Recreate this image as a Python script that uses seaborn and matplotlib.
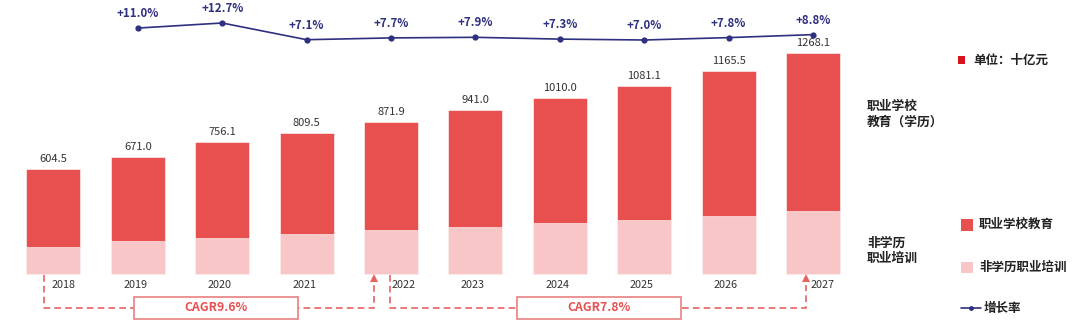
import numpy as np
import pandas as pd
import matplotlib
matplotlib.use("Agg")
import matplotlib.pyplot as plt
import seaborn as sns
from matplotlib.patches import Rectangle
from matplotlib.lines import Line2D

# ---------------- data ----------------
years = ['2018', '2019', '2020', '2021', '2022', '2023', '2024', '2025', '2026', '2027']
totals = [604.5, 671.0, 756.1, 809.5, 871.9, 941.0, 1010.0, 1081.1, 1165.5, 1268.1]
non_degree = [155, 186, 204, 231, 252, 268, 291, 311, 334, 363]
growth_years = years[1:]
growth = [11.0, 12.7, 7.1, 7.7, 7.9, 7.3, 7.0, 7.8, 8.8]
cagr_labels = ['CAGR9.6%', 'CAGR7.8%']
cagr_spans = [('2018', '2022'), ('2022', '2027')]
series_names = ['职业学校教育', '非学历职业培训', '增长率']
unit_label = '单位：十亿元'
side_labels = ['职业学校\n教育（学历）', '非学历\n职业培训']

# ---------------- style ----------------
sns.set_theme(style='white')
plt.rcParams['font.family'] = ['Noto Sans CJK SC', 'DejaVu Sans']

RED = '#E85050'
PINK = '#F8C6C6'
NAVY = '#2E3080'
DASH = '#E86262'
BOXE = '#E88080'
TXT = '#333333'

W, H = 1080, 323
fig = plt.figure(figsize=(W / 100, H / 100), dpi=100)

PITCH = 84.4      # px per category
C0 = 53.4         # px centre of first category
PX = 0.1739       # px per value unit
BASE = 273.8      # px (from top) of the baseline

x0, x1 = -0.6, 9.45
left = (C0 + x0 * PITCH) / W
width = (x1 - x0) * PITCH / W
ax = fig.add_axes([left, 0, width, 1])

df = pd.DataFrame({'year': years, 'total': totals, 'non_degree': non_degree})
sns.barplot(data=df, x='year', y='total', color=RED, saturation=1, width=0.64,
            errorbar=None, ax=ax, edgecolor='white', linewidth=0.4)
sns.barplot(data=df, x='year', y='non_degree', color=PINK, saturation=1, width=0.64,
            errorbar=None, ax=ax, edgecolor='white', linewidth=0.4)

ymin = -(H - BASE) / PX
ymax = BASE / PX
ax.set_ylim(ymin, ymax)
ax.axis('off')

pos = {y: i for i, y in enumerate(years)}

# total labels
for i, t in enumerate(totals):
    ax.text(i, t + 10 / PX, f'{t:.1f}', ha='center', va='center',
            fontsize=8, color=TXT)

# year labels
shift = {'2018': 0.12, '2022': 0.15, '2027': 0.11}
for i, y in enumerate(years):
    ax.text(i + shift.get(y, -0.03), -(284.6 - BASE) / PX, y, ha='center',
            va='center', fontsize=7.8, color=TXT)

# CAGR annotations
yh = -(308.4 - BASE) / PX
ytop = -(275.0 - BASE) / PX
box_b, box_t = -(318.6 - BASE) / PX, -(297.0 - BASE) / PX
drop_off = [-0.11, -0.01]
arrow_off = [-0.20, -0.08]
box_ranges = [(0.96, 2.90), (5.49, 7.44)]
for k, (a, b) in enumerate(cagr_spans):
    xa = pos[a] + drop_off[k]
    xb = pos[b] + arrow_off[k]
    ax.plot([xa, xa, xb, xb], [ytop, yh, yh, ytop - 10 / PX],
            color=DASH, lw=1.2, ls=(0, (4, 2.5)), zorder=3, clip_on=False)
    ax.plot([xb], [ytop - 3 / PX], marker='^', markersize=5.5, color=DASH,
            markeredgewidth=0, zorder=4, clip_on=False)
    bl, br = box_ranges[k]
    ax.add_patch(Rectangle((bl, box_b), br - bl, box_t - box_b, facecolor='white',
                           edgecolor=BOXE, lw=1.2, zorder=5, clip_on=False))
    ax.text((bl + br) / 2, (box_b + box_t) / 2, cagr_labels[k], ha='center',
            va='center', fontsize=8.8, fontweight='bold', color=RED, zorder=6)

# growth line on twin axis
ax2 = ax.twinx()
gdf = pd.DataFrame({'x': [pos[y] for y in growth_years], 'g': growth})
p_hi, p_lo = 23.0, 40.0
gmax, gmin = max(growth), min(growth)
k = (p_lo - p_hi) / (gmax - gmin)
ax2.set_ylim(gmax - (H - p_hi) / k, gmax + p_hi / k)
sns.lineplot(data=gdf, x='x', y='g', ax=ax2, color=NAVY, lw=1.2, marker='o',
             markersize=4.5, markeredgewidth=0)
for xv, g in zip(gdf['x'], gdf['g']):
    ax2.annotate(f'+{g:.1f}%', (xv, g), xytext=(0, 10.5), textcoords='offset points',
                 ha='center', va='center', fontsize=8.3, fontweight='bold', color=NAVY)
ax2.axis('off')
ax.set_xlim(x0, x1)
ax2.set_xlim(x0, x1)


def fx(px):
    return px / W


def fy(py):
    return 1 - py / H


# side labels
fig.text(fx(867), fy(114), side_labels[0], ha='left', va='center', fontsize=9.2,
         fontweight='bold', color='#222222', linespacing=1.25)
fig.text(fx(867), fy(251), side_labels[1], ha='left', va='center', fontsize=9.2,
         fontweight='bold', color='#222222', linespacing=1.25)

# legend-like elements
fig.add_artist(Rectangle((fx(958), fy(63.5)), 7 / W, 7 / H, facecolor='#D4151E',
                         edgecolor='none', transform=fig.transFigure))
fig.text(fx(973), fy(60), unit_label, ha='left', va='center', fontsize=9,
         fontweight='bold', color='#222222')

fig.add_artist(Rectangle((fx(961), fy(231)), 12 / W, 12.5 / H, facecolor=RED,
                         edgecolor='none', transform=fig.transFigure))
fig.text(fx(979), fy(224.5), series_names[0], ha='left', va='center', fontsize=9,
         fontweight='bold', color='#222222')
fig.add_artist(Rectangle((fx(961), fy(273)), 12 / W, 11 / H, facecolor=PINK,
                         edgecolor='none', transform=fig.transFigure))
fig.text(fx(979), fy(267.5), series_names[1], ha='left', va='center', fontsize=9,
         fontweight='bold', color='#222222')
fig.add_artist(Line2D([fx(961), fx(981)], [fy(308.4), fy(308.4)], color=NAVY, lw=1.2,
                      transform=fig.transFigure))
fig.add_artist(Line2D([fx(971)], [fy(308.4)], color=NAVY, marker='o', markersize=3.5,
                      markeredgewidth=0, transform=fig.transFigure))
fig.text(fx(984), fy(308.4), series_names[2], ha='left', va='center', fontsize=9,
         fontweight='bold', color='#222222')

fig.savefig('out.png', dpi=100)
